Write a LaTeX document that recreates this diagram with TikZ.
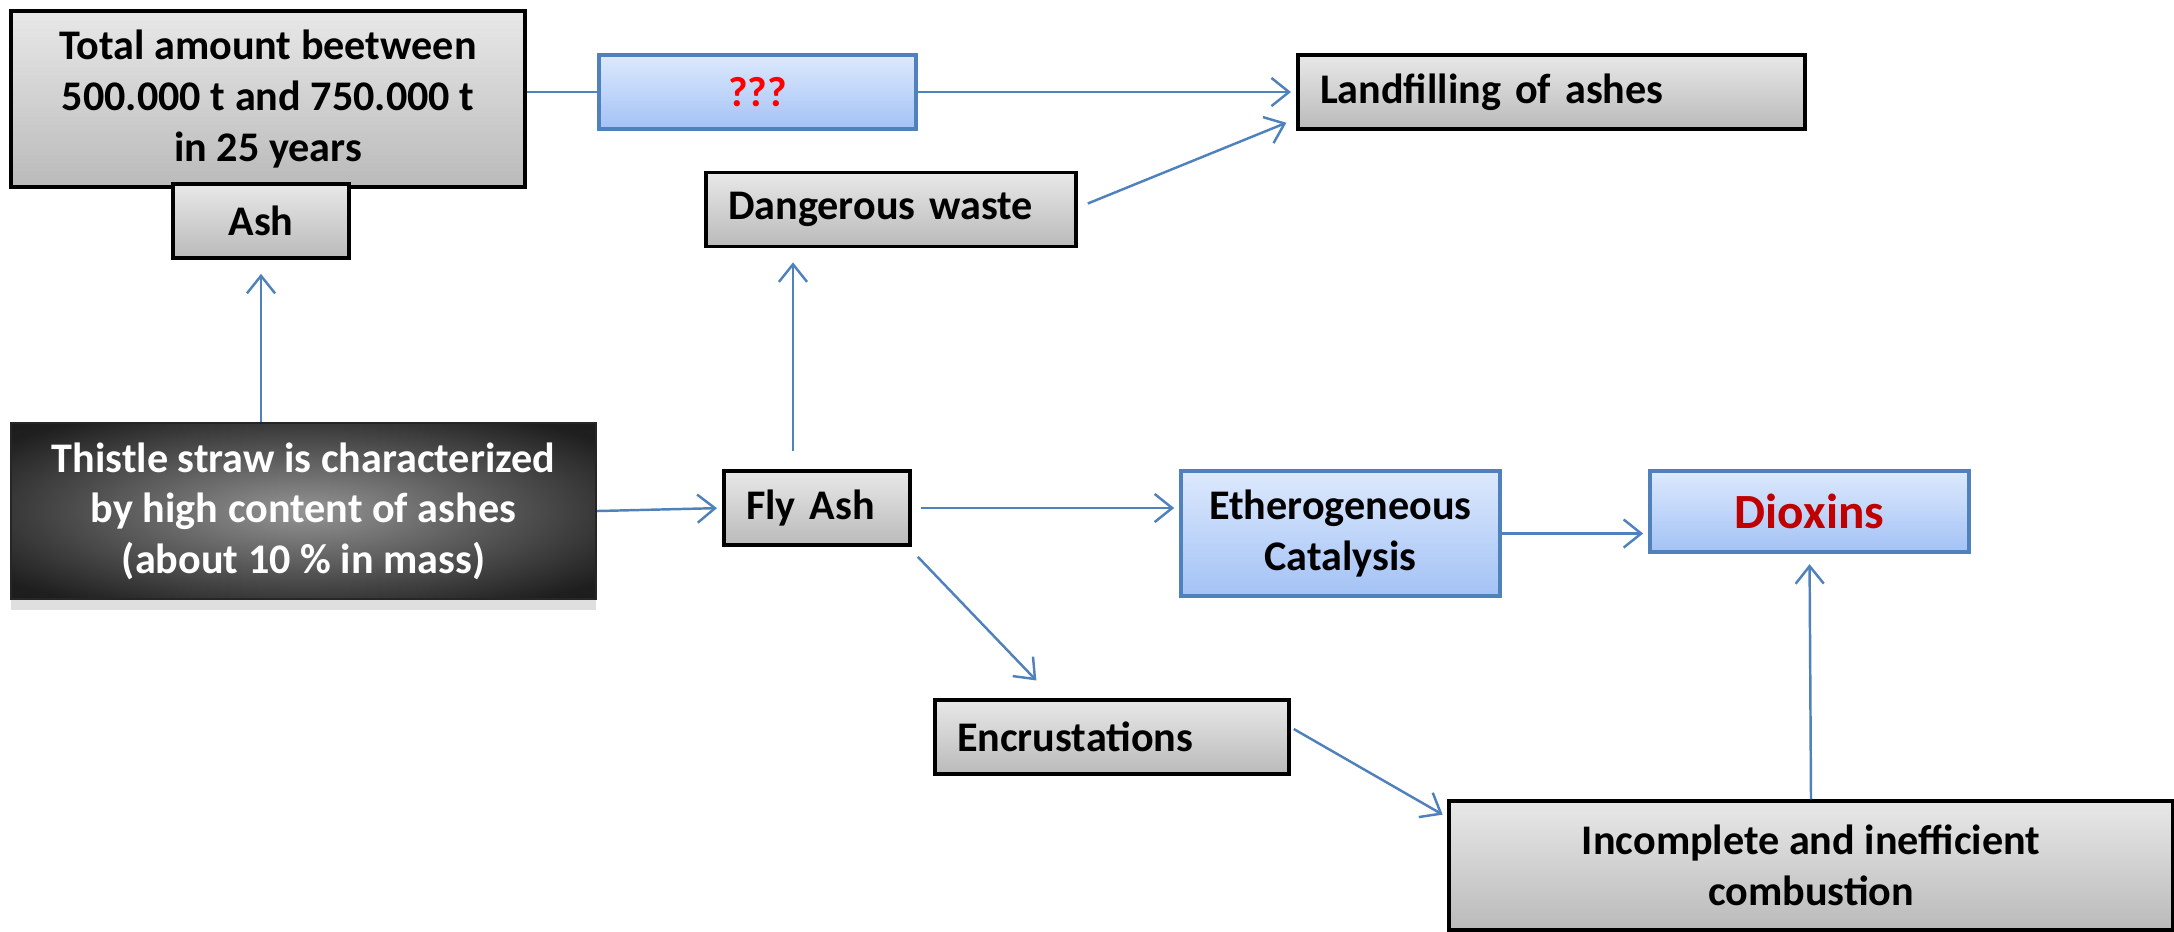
\documentclass[tikz,border=0pt]{standalone}
\usepackage{fontspec}
\setmainfont{Carlito}
\usetikzlibrary{arrows.meta,shadows}
\definecolor{arrowblue}{HTML}{4F81BD}
\definecolor{bluetop}{HTML}{DDE9FD}
\definecolor{bluebot}{HTML}{A3C2F5}
\definecolor{darkred}{HTML}{C00000}
\pgfdeclareradialshading{thistleshade}{\pgfpoint{0bp}{0bp}}{color(0bp)=(black!42); color(32bp)=(black!88); color(50bp)=(black!93)}

\begin{document}
\begin{tikzpicture}[
  font=\fontsize{12}{14.4}\selectfont\bfseries,
  greybox/.style={draw=black, line width=1pt, top color=black!9, bottom color=black!27, align=center},
  leftbox/.style={greybox, align=left, inner xsep=0.22cm, text width=#1, minimum height=0.74cm},
  bluebox/.style={draw=arrowblue, line width=0.9pt, top color=bluetop, bottom color=bluebot, align=center},
  darkbox/.style={draw=black!85, line width=0.6pt, shading=thistleshade,
    text=white, align=center, drop shadow={shadow xshift=0pt, shadow yshift=-3pt, opacity=0.25}},
  link/.style={draw=arrowblue, line width=0.7pt},
  arr/.style={link, -{Straight Barb[length=5pt,width=8pt]}, shorten >=1.5pt},
]
  \useasboundingbox (0,0) rectangle (21.74,-9.31);

  % boxes
  \node[greybox, minimum width=5.14cm, minimum height=1.76cm] (total) at (2.68,-0.99)
    {Total amount beetween\\500.000 t and 750.000 t\\in 25 years};
  \node[greybox, minimum width=1.76cm, minimum height=0.74cm] (ash) at (2.61,-2.21) {Ash};
  \node[bluebox, minimum width=3.17cm, minimum height=0.74cm, text=red] (qqq) at (7.575,-0.92) {???};
  \node[leftbox=4.63cm] (land) at (15.515,-0.92) {Landfilling of ashes};
  \node[leftbox=3.26cm] (danger) at (8.91,-2.095) {Dangerous waste};
  \node[darkbox, minimum width=5.85cm, minimum height=1.76cm] (thistle) at (3.035,-5.11)
    {Thistle straw is characterized\\by high content of ashes\\(about 10 \% in mass)};
  \node[leftbox=1.42cm] (fly) at (8.17,-5.08) {Fly Ash};
  \node[bluebox, minimum width=3.19cm, minimum height=1.25cm] (cat) at (13.405,-5.335)
    {Etherogeneous\\Catalysis};
  \node[bluebox, minimum width=3.19cm, minimum height=0.81cm, text=darkred,
    font=\fontsize{14}{16}\selectfont\bfseries] (diox) at (18.095,-5.115) {Dioxins};
  \node[leftbox=3.10cm] (enc) at (11.12,-7.37) {Encrustations};
  \node[greybox, minimum width=7.24cm, minimum height=1.29cm] (inc) at (18.11,-8.655)
    {Incomplete and inefficient\\combustion};

  % connectors
  \coordinate (flyup) at ([xshift=-0.24cm,yshift=0.18cm]fly.north);
  \draw[link] (total.east |- qqq.west) -- (qqq.west);
  \draw[arr] (qqq.east) -- (land.west);
  \draw[arr] ([xshift=0.1cm,yshift=0.06cm]danger.east) -- ([xshift=-0.05cm,yshift=0.1cm]land.south west);
  \draw[arr, shorten >=4pt] (ash.south |- thistle.north) -- (ash.south);
  \draw[arr] (thistle.east) -- (fly.west);
  \draw[arr, shorten >=4pt] (flyup) -- (flyup |- danger.south);
  \draw[arr] ([xshift=0.09cm]fly.east) -- (cat.west |- fly.east);
  \draw[arr] ([xshift=0.06cm,yshift=-0.1cm]fly.south east) -- ([xshift=-0.72cm,yshift=0.14cm]enc.north);
  \draw[arr] (cat.east) -- (cat.east -| diox.west);
  \draw[arr] ([xshift=0.03cm,yshift=0.08cm]enc.east) -- ([yshift=-0.18cm]inc.north west);
  \draw[arr, shorten >=3pt] (inc.north) -- (diox.south);
\end{tikzpicture}
\end{document}
